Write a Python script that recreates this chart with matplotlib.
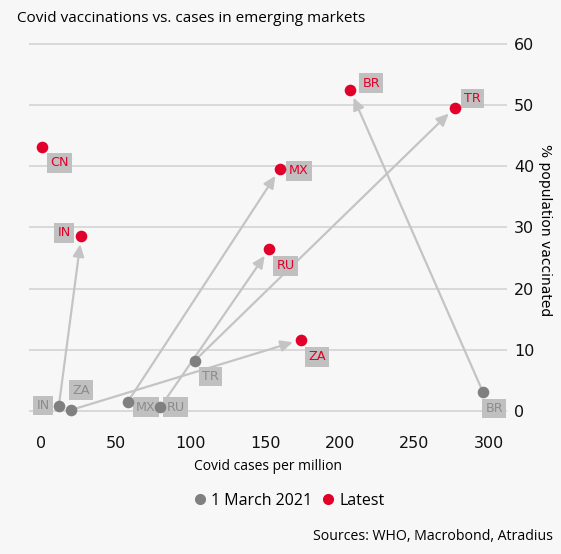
import matplotlib.pyplot as plt
from matplotlib.lines import Line2D

# Data
countries = ["IN", "ZA", "MX", "RU", "TR", "BR"]
cases_march = [12, 20, 58, 80, 103, 296]
vacc_march = [0.8, 0.1, 1.4, 0.6, 8.2, 3.0]

latest_countries = ["CN", "IN", "MX", "BR", "TR", "RU", "ZA"]
cases_latest = [1, 27, 160, 207, 277, 153, 174]
vacc_latest = [43.2, 28.6, 39.6, 52.5, 49.6, 26.5, 11.6]

x_ticks = [0, 50, 100, 150, 200, 250, 300]
y_ticks = [0, 10, 20, 30, 40, 50, 60]

# label offsets in pixels (dx right, dy up)
march_offsets = {"IN": (-16, 0), "ZA": (10, 20), "MX": (18, -5), "RU": (15, 0),
                 "TR": (16, -16), "BR": (11, -16)}
latest_offsets = {"CN": (17, -16), "IN": (-17, 3), "MX": (19, -2), "BR": (21, 7),
                  "TR": (18, 9), "RU": (16, -17), "ZA": (16, -17)}

BG = "#f7f7f7"
RED = "#e2002a"
GREY = "#808080"
BOX = "#c0c0c0"
LINE = "#c4c4c4"
TEXT_FONT = ["Open Sans", "DejaVu Sans"]

fig = plt.figure(figsize=(5.61, 5.54), dpi=100, facecolor=BG)
ax = fig.add_axes([29 / 561, 1 - 429 / 554, 478 / 561, 397 / 554], facecolor=BG)

ax.set_xlim(-8, 312)
ax.set_ylim(-3, 62)
for s in ax.spines.values():
    s.set_visible(False)
ax.yaxis.tick_right()
ax.set_xticks(x_ticks)
ax.set_yticks(y_ticks)
ax.tick_params(length=0, labelsize=11.5, colors="#111111")
ax.tick_params(axis="x", pad=5)
ax.tick_params(axis="y", pad=5)
ax.grid(axis="y", color="#d4d4d4", lw=1.2)
ax.set_axisbelow(True)

ax.set_xlabel("Covid cases per million", fontsize=10, family=TEXT_FONT, labelpad=6)
ax.yaxis.set_label_position("right")
ax.set_ylabel("% population vaccinated", fontsize=10, rotation=270, labelpad=13)

# arrows from 1 March to latest
for c, x0, y0 in zip(countries, cases_march, vacc_march):
    i = latest_countries.index(c)
    ax.annotate("", xy=(cases_latest[i], vacc_latest[i]), xytext=(x0, y0),
                arrowprops=dict(arrowstyle="-|>,head_length=0.6,head_width=0.28",
                                color=LINE, lw=1.6, shrinkA=0, shrinkB=6,
                                mutation_scale=12),
                zorder=2)

ax.scatter(cases_march, vacc_march, s=70, color=GREY, zorder=4, linewidths=0)
ax.scatter(cases_latest, vacc_latest, s=70, color=RED, zorder=4, linewidths=0)

box = dict(boxstyle="square,pad=0.25", fc=BOX, ec="none")
for c, x0, y0 in zip(countries, cases_march, vacc_march):
    ax.annotate(c, (x0, y0), xytext=march_offsets[c], textcoords="offset pixels",
                ha="center", va="center", fontsize=9.2, color="#8c8c8c", bbox=box, zorder=3)
for c, x0, y0 in zip(latest_countries, cases_latest, vacc_latest):
    ax.annotate(c, (x0, y0), xytext=latest_offsets[c], textcoords="offset pixels",
                ha="center", va="center", fontsize=9.2, color=RED, bbox=box, zorder=3)

fig.text(17 / 561, 1 - 18 / 554, "Covid vaccinations vs. cases in emerging markets",
         fontsize=11, family=TEXT_FONT, ha="left", va="center")

handles = [Line2D([], [], ls="", marker="o", ms=8, color=GREY, mec="none"),
           Line2D([], [], ls="", marker="o", ms=8, color=RED, mec="none")]
fig.legend(handles, ["1 March 2021", "Latest"], loc="center", ncol=2,
           bbox_to_anchor=(289 / 561, 1 - 501 / 554), frameon=False,
           prop={"family": TEXT_FONT, "size": 11.5}, handlelength=0.8,
           handletextpad=0.3, columnspacing=0.6)

fig.text(553 / 561, 1 - 537 / 554, "Sources: WHO, Macrobond, Atradius",
         fontsize=10.2, family=TEXT_FONT, ha="right", va="center")

fig.savefig("out.png", dpi=100, facecolor=BG)
